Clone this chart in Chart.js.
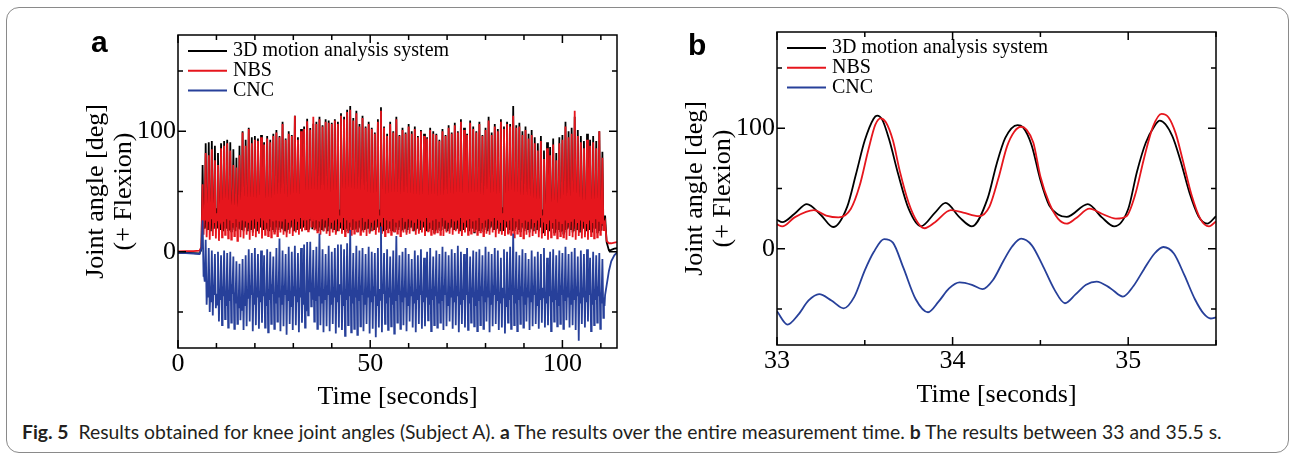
<!DOCTYPE html>
<html lang="en">
<head>
<meta charset="utf-8">
<title>Fig. 5 Knee joint angles</title>
<script src="https://cdn.jsdelivr.net/npm/chart.js@4.4.1/dist/chart.umd.min.js"></script>
<style>
    body { margin: 0; background: #fff; width: 1290px; height: 454px; overflow: hidden; position: relative; }
    .frame { position: absolute; left: 6px; top: 7px; width: 1283px; height: 446px; box-sizing: border-box;
             border: 1.5px solid #8a8a8a; border-radius: 13px; }
    #chartA { position: absolute; left: 0; top: 0; }
    #chartB { position: absolute; left: 640px; top: 0; }
    .panel { position: absolute; font: bold 30px "Liberation Sans", Arial, sans-serif; line-height: 30px; color: #000; }
    #caption { position: absolute; left: 22px; top: 424px; white-space: nowrap; color: #231f20;
               font-family: Lato, "Open Sans", sans-serif; font-size: 16px; line-height: 1; }
    #caption b { font-weight: 700; }
</style>
</head>
<body>
<div class="frame"></div>
<canvas id="chartA" width="640" height="412"></canvas>
<canvas id="chartB" width="650" height="412"></canvas>
<div class="panel" style="left:91px; top:27px;">a</div>
<div class="panel" style="left:688px; top:30px;">b</div>
<div id="caption"><span id="capText"><b>Fig.&nbsp;5</b>&nbsp;&nbsp;Results obtained for knee joint angles (Subject A). <b>a</b> The results over the entire measurement time. <b>b</b> The results between 33 and 35.5 s.</span></div>

<script>
    // ---- ticks ----
    const aTickX = [0, 10, 20, 30, 40, 50, 60, 70, 80, 90, 100, 110];
    const aTickXLabel = [0, 50, 100];
    const bTickX = [33, 33.5, 34, 34.5, 35, 35.5];
    const bTickXLabel = [33, 34, 35];
    const tickY = [-50, 0, 50, 100, 150];
    const tickYLabel = [0, 100];

    const seriesNames = ['3D motion analysis system', 'NBS', 'CNC'];

    // ---- panel a: whole measurement, one gait cycle every 0.8 s ----
    const aCycleStart = 6.4;
    const aCyclePeriod = 0.8;
    const aPhase = [0, 0.25, 0.40, 0.55]; // peak, low, small peak, dip

    const aLeadTime = [0, 2, 4, 5.6, 6.1];
    const a3DLead = [-1, -0.8, -1.2, -1.5, 2];
    const aNBSLead = [0.3, 0.5, 0.5, 0.8, 4];
    const aCNCLead = [-1, -1.2, -1.5, -2, 3];

    const aTailTime = [111.1, 111.5, 112.1, 112.7, 113.5, 114.4];
    const a3DTail = [30, 8, 1, 1.5, 2.5, 3];
    const aNBSTail = [24, 9, 7, 7, 7.5, 8];
    const aCNCTail = [-36, -28, -16, -8, -3, 0];

    // 3D motion analysis system, per cycle
    const a3DPeak = [
        72, 90, 91, 92, 88, 82, 90, 92, 93, 91,
        85, 78, 88, 100, 93, 103, 95, 96, 94, 97,
        91, 96, 93, 98, 101, 96, 108, 94, 100, 97,
        113, 95, 102, 104, 110.5, 102.7, 106.3, 108, 112, 105,
        110, 109, 107, 110, 108, 115, 112, 118, 121, 111,
        117, 106, 113, 104, 108, 103, 99, 110, 120, 104,
        98, 108, 100, 112, 97, 103, 99, 106, 100, 104,
        96, 101, 98, 95, 103, 100, 98, 93, 102, 97,
        105, 99, 107, 100, 110, 103, 98, 109, 104, 100,
        108, 97, 103, 112, 99, 106, 102, 110, 104, 108,
        106, 121, 105, 107, 100, 104, 98, 101, 95, 90,
        96, 84, 91, 87, 94, 82, 95, 97, 108, 100,
        103, 112, 101, 96, 92, 98, 93, 96, 92, 100, 83];
    const a3DLow = [
        20, 20, 18, 19, 21, 17, 19, 20, 18, 17,
        19, 21, 18, 17, 20, 19, 16, 18, 20, 17,
        19, 18, 21, 17, 19, 20, 18, 16, 19, 21,
        18, 20, 17, 22, 18.6, 26.4, 20.8, 18, 20, 17,
        19, 21, 18, 16, 20, 19, 17, 18, 21, 19,
        17, 20, 18, 19, 16, 20, 18, 21, 17, 19,
        20, 18, 17, 19, 21, 18, 16, 20, 19, 18,
        17, 21, 19, 18, 20, 16, 19, 18, 21, 17,
        19, 20, 18, 17, 19, 21, 18, 20, 16, 19,
        18, 17, 20, 19, 21, 18, 17, 19, 20, 16,
        19, 18, 21, 17, 20, 19, 16, 18, 20, 17,
        15, 18, 17, 20, 16, 19, 17, 15, 18, 20,
        16, 19, 17, 18, 15, 19, 17, 20, 16, 18, 22];
    const a3DMid = [
        34, 35, 37, 34, 36, 38, 35, 37, 36, 34,
        37, 35, 36, 38, 34, 36, 37, 35, 38, 36,
        34, 37, 35, 36, 38, 35, 37, 34, 36, 37,
        35, 38, 36, 37, 38, 36.9, 37, 35, 37, 36,
        38, 34, 36, 37, 35, 38, 36, 34, 37, 35,
        36, 38, 35, 37, 34, 36, 37, 35, 38, 36,
        35, 37, 34, 36, 38, 35, 37, 36, 34, 37,
        36, 35, 38, 34, 36, 37, 35, 38, 36, 34,
        37, 35, 36, 38, 34, 36, 37, 35, 36, 38,
        34, 36, 37, 35, 38, 36, 34, 37, 35, 36,
        38, 35, 37, 34, 36, 35, 37, 34, 36, 38,
        35, 33, 36, 34, 37, 35, 33, 36, 34, 35,
        37, 34, 36, 35, 33, 36, 34, 37, 35, 33, 30];
    const a3DDip = [
        19, 18, 17, 19, 20, 18, 17, 19, 18, 20,
        17, 19, 18, 20, 17, 18, 19, 17, 20, 18,
        19, 17, 18, 20, 18, 19, 17, 18, 20, 17,
        18, 19, 20, 18, 18.6, 18.6, 19, 17, 18, 20,
        17, 19, 18, 17, 20, 18, 19, 17, 18, 19,
        20, 17, 18, 19, 17, 18, 20, 19, 17, 18,
        19, 17, 20, 18, 17, 19, 18, 20, 17, 19,
        18, 20, 17, 19, 18, 17, 20, 18, 19, 17,
        20, 18, 19, 17, 18, 20, 17, 19, 18, 17,
        19, 18, 17, 20, 18, 19, 17, 18, 20, 18,
        17, 19, 18, 20, 17, 18, 19, 17, 18, 20,
        16, 18, 17, 19, 16, 18, 17, 16, 19, 18,
        17, 18, 16, 19, 17, 18, 16, 19, 17, 18, 24];

    // NBS, per cycle
    const aNBSPeak = [
        56, 82, 80, 85, 76, 72, 86, 88, 90, 84,
        72, 70, 80, 99, 88, 102, 90, 93, 92, 95,
        89, 94, 91, 96, 99, 95, 106, 93, 98, 96,
        113, 93, 100, 102, 108.3, 101.3, 112, 106, 110, 104,
        108, 107, 106, 109, 106, 113, 110, 116, 118, 109,
        115, 104, 111, 103, 106, 102, 98, 108, 117, 103,
        96, 106, 99, 110, 96, 101, 98, 104, 98, 102,
        95, 100, 96, 94, 101, 98, 97, 92, 100, 96,
        103, 98, 105, 99, 108, 101, 97, 107, 102, 99,
        106, 96, 101, 109, 97, 104, 100, 108, 102, 106,
        104, 113, 103, 104, 97, 101, 94, 97, 90, 84,
        92, 77, 86, 80, 89, 76, 90, 93, 104, 95,
        98, 117, 96, 91, 86, 93, 88, 91, 86, 100, 78];
    const aNBSLow = [
        14, 12, 10, 13, 11, 9, 12, 14, 11, 10,
        13, 9, 12, 11, 14, 10, 13, 12, 15, 11,
        14, 13, 12, 15, 13, 16, 14, 12, 15, 13,
        16, 14, 17, 18.5, 17, 20.8, 18.6, 16, 14, 17,
        15, 13, 16, 14, 17, 15, 13, 16, 14, 15,
        17, 14, 16, 13, 15, 17, 14, 16, 15, 13,
        16, 14, 17, 15, 13, 16, 14, 15, 17, 14,
        15, 16, 13, 17, 14, 15, 16, 14, 13, 16,
        15, 14, 17, 15, 13, 16, 14, 15, 17, 14,
        16, 13, 15, 14, 16, 12, 15, 14, 13, 15,
        14, 12, 15, 13, 11, 14, 12, 13, 15, 12,
        11, 13, 10, 12, 14, 11, 13, 12, 10, 13,
        12, 10, 13, 11, 12, 10, 13, 11, 12, 14, 18];
    const aNBSMid = [
        30, 30, 31, 29, 32, 30, 31, 33, 30, 29,
        31, 32, 30, 29, 31, 33, 30, 32, 31, 29,
        32, 30, 31, 33, 29, 31, 32, 30, 31, 33,
        30, 32, 31, 32, 32, 33.3, 31, 30, 32, 31,
        33, 29, 31, 32, 30, 33, 31, 29, 32, 30,
        31, 33, 30, 32, 29, 31, 32, 30, 33, 31,
        30, 32, 29, 31, 33, 30, 32, 31, 29, 32,
        31, 30, 33, 29, 31, 32, 30, 33, 31, 29,
        32, 30, 31, 33, 29, 31, 32, 30, 31, 33,
        29, 31, 32, 30, 33, 31, 29, 32, 30, 31,
        33, 30, 32, 29, 31, 30, 32, 29, 31, 33,
        30, 28, 31, 29, 32, 30, 28, 31, 29, 30,
        32, 29, 31, 30, 28, 31, 29, 32, 30, 28, 26];
    const aNBSDip = [
        26, 25, 27, 24, 26, 28, 25, 27, 26, 24,
        27, 25, 26, 28, 24, 26, 27, 25, 28, 26,
        24, 27, 25, 26, 28, 25, 27, 24, 26, 27,
        25, 28, 26, 26, 27, 25, 26, 25, 27, 26,
        28, 24, 26, 27, 25, 28, 26, 24, 27, 25,
        26, 28, 25, 27, 24, 26, 27, 25, 28, 26,
        25, 27, 24, 26, 28, 25, 27, 26, 24, 27,
        26, 25, 28, 24, 26, 27, 25, 28, 26, 24,
        27, 25, 26, 28, 24, 26, 27, 25, 26, 28,
        24, 26, 27, 25, 28, 26, 24, 27, 25, 26,
        28, 25, 27, 24, 26, 25, 27, 24, 26, 28,
        25, 23, 26, 24, 27, 25, 23, 26, 24, 25,
        27, 24, 26, 25, 23, 26, 24, 27, 25, 23, 22];

    // CNC, per cycle
    const aCNCPeak = [
        26, 10, 3, 1, -2, 0, -3, 1, -1, 0,
        -4, -8, -10, -6, -3, 2, -1, 3, -2, 1,
        -3, 2, 0, -4, 3, 11, 1, -2, 4, 0,
        5, -1, 3, 6, 8, 8.3, 1.4, 4, 15, 2,
        -2, 5, 0, 3, 6, 6, 2, 7, 18, -1,
        5, 1, 3, -2, 4, 0, -1, 3, 21, -1,
        2, -4, 1, 13, -3, 0, 3, -2, -6, 1,
        -3, 2, -5, 0, 3, -4, 1, -2, 4, 0,
        -3, 2, -1, 5, 0, -2, 3, -4, 1, 0,
        2, -3, 4, 0, -2, 3, 1, -5, 2, 0,
        4, 15, 0, -3, 2, -1, -6, 1, -4, 0,
        -2, 3, -5, 0, 2, -3, 1, -1, 4, -2,
        0, 3, -4, 1, -2, 2, -5, 0, -3, -1, -6];
    const aCNCLow = [
        -20, -44, -50, -53, -47, -58, -61, -56, -63, -59,
        -64, -60, -57, -65, -62, -58, -66, -61, -64, -59,
        -63, -67, -60, -64, -58, -66, -62, -69, -60, -65,
        -61, -67, -59, -63, -52.8, -45.3, -58, -64, -61, -67,
        -62, -66, -60, -68, -63, -65, -70, -61, -67, -64,
        -69, -62, -66, -60, -68, -64, -71, -63, -67, -60,
        -65, -62, -68, -59, -64, -61, -66, -58, -63, -67,
        -60, -64, -62, -57, -66, -61, -63, -59, -65, -62,
        -58, -64, -61, -67, -60, -63, -65, -59, -62, -66,
        -61, -64, -58, -67, -62, -60, -65, -63, -68, -59,
        -64, -61, -66, -60, -63, -58, -65, -62, -60, -64,
        -59, -63, -61, -66, -58, -62, -60, -64, -57, -63,
        -61, -65, -74, -60, -63, -58, -66, -61, -59, -64, -55];
    const aCNCMid = [
        -20, -30, -33, -28, -35, -31, -29, -36, -32, -27,
        -34, -38, -40, -36, -31, -28, -35, -30, -33, -29,
        -36, -31, -27, -34, -30, -35, -28, -32, -37, -29,
        -33, -30, -35, -37.8, -28, -27.3, -32, -29, -34, -31,
        -28, -35, -30, -33, -27, -36, -31, -29, -34, -30,
        -32, -28, -35, -30, -33, -29, -36, -31, -27, -34,
        -30, -35, -32, -28, -33, -30, -36, -29, -34, -31,
        -28, -33, -30, -35, -31, -29, -34, -32, -28, -36,
        -30, -33, -29, -35, -31, -28, -34, -30, -36, -32,
        -29, -33, -30, -35, -28, -32, -34, -30, -37, -31,
        -28, -34, -31, -29, -35, -30, -33, -28, -36, -31,
        -30, -34, -29, -33, -31, -36, -28, -32, -30, -35,
        -31, -29, -34, -30, -33, -28, -35, -31, -29, -34, -38];
    const aCNCDip = [
        -25, -38, -42, -36, -44, -40, -37, -45, -41, -35,
        -43, -47, -49, -45, -39, -36, -44, -38, -42, -37,
        -45, -40, -35, -43, -38, -44, -36, -41, -46, -37,
        -42, -38, -44, -49.5, -33.6, -39.8, -41, -37, -43, -40,
        -36, -44, -38, -42, -35, -45, -40, -37, -43, -38,
        -41, -36, -44, -38, -42, -37, -45, -40, -35, -43,
        -38, -44, -41, -36, -42, -38, -45, -37, -43, -40,
        -36, -42, -38, -44, -40, -37, -43, -41, -36, -45,
        -38, -42, -37, -44, -40, -36, -43, -38, -45, -41,
        -37, -42, -38, -44, -36, -41, -43, -38, -46, -40,
        -36, -43, -40, -37, -44, -38, -42, -36, -45, -40,
        -38, -43, -37, -42, -40, -45, -36, -41, -38, -44,
        -40, -37, -43, -38, -42, -36, -44, -40, -37, -43, -45];

    // ---- panel b: 33 - 35.5 s ----
    const bTime3D = [33.00, 33.03, 33.10, 33.17, 33.25, 33.32, 33.40, 33.45, 33.50, 33.55, 33.57, 33.60, 33.64, 33.69, 33.75, 33.82,
                     33.90, 33.96, 34.04, 34.11, 34.20, 34.25, 34.30, 34.37, 34.40, 34.45, 34.50, 34.55, 34.60, 34.65, 34.77, 34.85,
                     34.92, 35.00, 35.05, 35.10, 35.15, 35.18, 35.25, 35.30, 35.35, 35.40, 35.45, 35.50];
    const b3D = [24, 22, 29, 37, 28, 18, 35, 62, 90, 108, 110.5, 107, 90, 62, 33, 18.6,
                 30, 38, 26, 18.6, 42, 70, 92, 102.7, 101, 86, 57, 36, 28.5, 26.4, 37, 26,
                 18.6, 33, 64, 88, 102, 106.3, 94, 72, 46, 27, 20.8, 27];

    const bTimeNBS = [33.00, 33.03, 33.10, 33.21, 33.28, 33.35, 33.42, 33.47, 33.52, 33.56, 33.59, 33.62, 33.66, 33.70, 33.75, 33.80,
                      33.84, 33.90, 33.99, 34.06, 34.15, 34.21, 34.26, 34.31, 34.35, 34.39, 34.42, 34.46, 34.50, 34.55, 34.60, 34.65,
                      34.70, 34.78, 34.85, 34.93, 34.99, 35.04, 35.09, 35.14, 35.19, 35.23, 35.27, 35.31, 35.36, 35.41, 35.46, 35.50];
    const bNBS = [20.2, 18.5, 26, 32, 27.5, 26, 33, 52, 82, 103, 108.3, 105, 90, 64, 38, 22,
                  17, 22, 32, 30, 27, 35, 58, 85, 97, 101.3, 99, 88, 60, 38, 25, 20.8,
                  25, 33.3, 29, 25, 27, 45, 75, 101, 112, 109, 96, 74, 45, 25, 18.6, 22.7];

    const bTimeCNC = [33.00, 33.06, 33.12, 33.18, 33.24, 33.31, 33.38, 33.44, 33.50, 33.55, 33.61, 33.66, 33.72, 33.79, 33.86,
                      33.92, 33.98, 34.04, 34.11, 34.17, 34.23, 34.29, 34.34, 34.39, 34.45, 34.51, 34.58, 34.64, 34.70, 34.76,
                      34.82, 34.90, 34.97, 35.03, 35.09, 35.15, 35.20, 35.26, 35.32, 35.38, 35.43, 35.47, 35.50];
    const bCNC = [-52, -63, -55, -43, -37.8, -43, -49.5, -40, -18, -3, 8, 5, -16, -42, -52.8,
                  -44, -33, -28, -30, -33.6, -26, -10, 2, 8.3, 3, -13, -34, -45.3, -38, -30,
                  -27.3, -33, -39.8, -31, -17, -4, 1.4, -4, -22, -42, -54, -58, -57];

    const colors = ['#000000', '#e6161d', '#27409a'];
    const serif = '"Liberation Serif", "Times New Roman", serif';

    function cycleSeries(lead, peak, low, mid, dip, tail) {
        const pts = aLeadTime.map((t, i) => ({x: t, y: lead[i]}));
        peak.forEach((p, i) => {
            const t0 = aCycleStart + i * aCyclePeriod;
            pts.push({x: t0 + aPhase[0], y: p});
            pts.push({x: t0 + aPhase[1], y: low[i]});
            pts.push({x: t0 + aPhase[2], y: mid[i]});
            pts.push({x: t0 + aPhase[3], y: dip[i]});
        });
        aTailTime.forEach((t, i) => pts.push({x: t, y: tail[i]}));
        return pts;
    }

    function pairs(times, vals) {
        return times.map((t, i) => ({x: t, y: vals[i]}));
    }

    // frame plus inward ticks on all four sides
    const frameTicks = {
        id: 'frameTicks',
        afterDatasetsDraw(chart) {
            const {ctx, chartArea: a, scales: {x, y}} = chart;
            ctx.save();
            ctx.strokeStyle = '#000';
            ctx.lineWidth = 1.5;
            ctx.strokeRect(a.left, a.top, a.right - a.left, a.bottom - a.top);
            ctx.beginPath();
            x.ticks.forEach(t => {
                const px = x.getPixelForValue(t.value);
                const len = t.label ? 8 : 5;
                ctx.moveTo(px, a.bottom); ctx.lineTo(px, a.bottom - len);
                ctx.moveTo(px, a.top); ctx.lineTo(px, a.top + len);
            });
            y.ticks.forEach(t => {
                const py = y.getPixelForValue(t.value);
                const len = t.label ? 8 : 5;
                ctx.moveTo(a.left, py); ctx.lineTo(a.left + len, py);
                ctx.moveTo(a.right, py); ctx.lineTo(a.right - len, py);
            });
            ctx.stroke();
            ctx.restore();
        }
    };

    // legend drawn inside the plot, top left
    const legendInside = {
        id: 'legendInside',
        afterDraw(chart) {
            const {ctx, chartArea: a} = chart;
            ctx.save();
            ctx.font = '20px ' + serif;
            ctx.textBaseline = 'middle';
            ctx.textAlign = 'left';
            chart.data.datasets.forEach((ds, i) => {
                const y = a.top + 16 + i * 19.8;
                ctx.strokeStyle = ds.borderColor;
                ctx.lineWidth = 2;
                ctx.beginPath();
                ctx.moveTo(a.left + 10, y);
                ctx.lineTo(a.left + 49, y);
                ctx.stroke();
                ctx.fillStyle = '#000';
                ctx.fillText(ds.label, a.left + 55, y);
            });
            ctx.restore();
        }
    };

    function makeChart(id, cfg) {
        return new Chart(document.getElementById(id), {
            type: 'line',
            data: {datasets: cfg.datasets},
            options: {
                responsive: false,
                animation: false,
                devicePixelRatio: 1,
                layout: {padding: {left: 0, top: cfg.top, right: cfg.right, bottom: 0}},
                plugins: {legend: {display: false}, tooltip: {enabled: false}},
                elements: {point: {radius: 0}},
                scales: {
                    x: {
                        type: 'linear', min: cfg.xMin, max: cfg.xMax,
                        afterBuildTicks: s => { s.ticks = cfg.xTicks.map(v => ({value: v})); },
                        afterFit: s => { s.height = cfg.xHeight; },
                        grid: {display: false, drawTicks: false},
                        border: {display: false},
                        ticks: {
                            autoSkip: false, maxRotation: 0, padding: 1, color: '#000',
                            font: {family: serif, size: 26, lineHeight: 1.2},
                            callback: v => cfg.xLabels.some(l => Math.abs(l - v) < 1e-6) ? String(Math.round(v)) : ''
                        },
                        title: {
                            display: true, text: 'Time [seconds]', color: '#000',
                            font: {family: serif, size: 26, lineHeight: 1.0},
                            padding: {top: 0, bottom: cfg.xTitlePad}
                        }
                    },
                    y: {
                        type: 'linear', min: -80, max: 180,
                        afterBuildTicks: s => { s.ticks = tickY.map(v => ({value: v})); },
                        afterFit: s => { s.width = cfg.yWidth; },
                        grid: {display: false, drawTicks: false},
                        border: {display: false},
                        ticks: {
                            autoSkip: false, padding: 2, color: '#000',
                            font: {family: serif, size: 26, lineHeight: 1.2},
                            callback: v => tickYLabel.includes(v) ? String(v) : ''
                        },
                        title: {
                            display: true, text: ['Joint angle [deg]', '(+ Flexion)'], color: '#000',
                            font: {family: serif, size: 26, lineHeight: 1.1},
                            padding: {top: cfg.yTitlePad, bottom: 0}
                        }
                    }
                }
            },
            plugins: [frameTicks, legendInside]
        });
    }

    function lineSet(i, data, width, extra) {
        return Object.assign({
            label: seriesNames[i], data: data, borderColor: colors[i],
            borderWidth: width, pointRadius: 0, fill: false, order: 2 - i
        }, extra || {});
    }

    makeChart('chartA', {
        top: 35, right: 23, yWidth: 178, xHeight: 64, xTitlePad: 2, yTitlePad: 81.7,
        xMin: 0, xMax: 114.2, xTicks: aTickX, xLabels: aTickXLabel,
        datasets: [
            lineSet(0, cycleSeries(a3DLead, a3DPeak, a3DLow, a3DMid, a3DDip, a3DTail), 1.8),
            lineSet(1, cycleSeries(aNBSLead, aNBSPeak, aNBSLow, aNBSMid, aNBSDip, aNBSTail), 1.8),
            lineSet(2, cycleSeries(aCNCLead, aCNCPeak, aCNCLow, aCNCMid, aCNCDip, aCNCTail), 1.8)
        ]
    });

    makeChart('chartB', {
        top: 32, right: 74, yWidth: 137, xHeight: 67, xTitlePad: 4, yTitlePad: 40.7,
        xMin: 33, xMax: 35.5, xTicks: bTickX, xLabels: bTickXLabel,
        datasets: [
            lineSet(0, pairs(bTime3D, b3D), 1.8, {cubicInterpolationMode: 'monotone'}),
            lineSet(1, pairs(bTimeNBS, bNBS), 1.8, {cubicInterpolationMode: 'monotone'}),
            lineSet(2, pairs(bTimeCNC, bCNC), 1.8, {cubicInterpolationMode: 'monotone'})
        ]
    });

    // caption: fit to the width it has in the figure
    const capText = document.getElementById('capText');
    const caption = document.getElementById('caption');
    const fs = 16 * 1200 / capText.getBoundingClientRect().width;
    caption.style.fontSize = fs.toFixed(2) + 'px';
    caption.style.top = (439 - 0.887 * fs).toFixed(1) + 'px';
</script>
</body>
</html>
